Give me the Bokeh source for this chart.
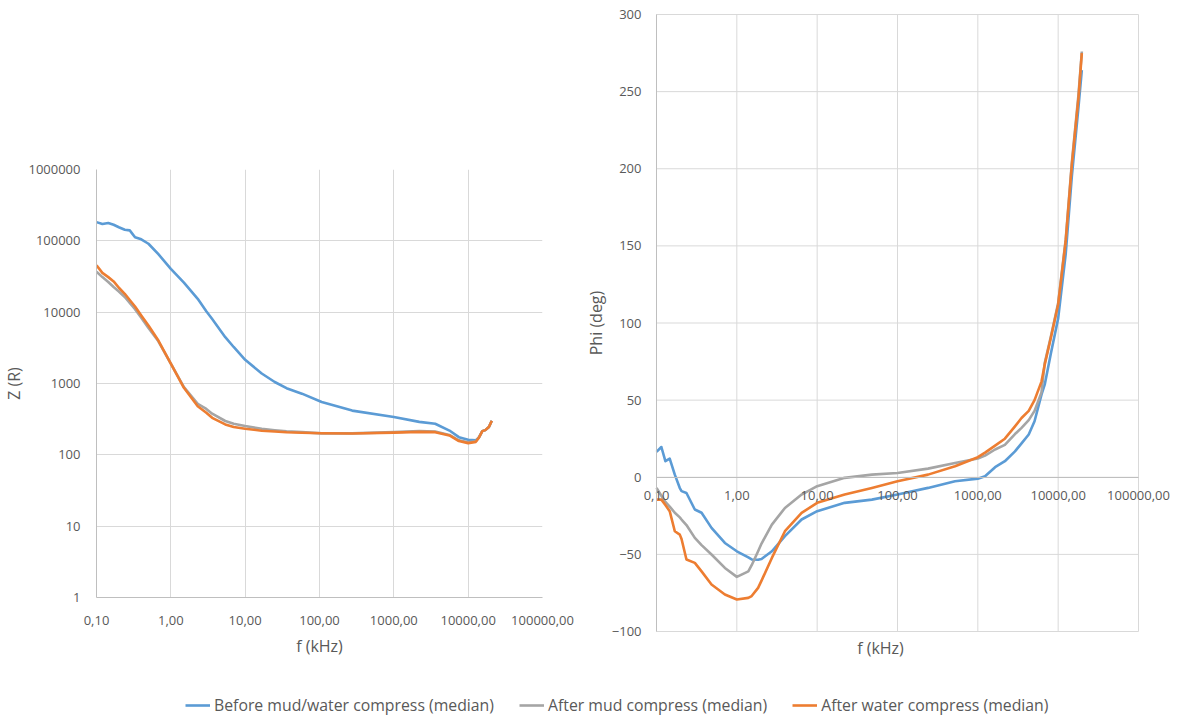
import numpy as np
from bokeh.plotting import figure
from bokeh.models import (FixedTicker, CustomJSTickFormatter, Legend,
                          LegendItem, Range1d, LogAxis)
from bokeh.layouts import column, row
from bokeh.embed import file_html
from bokeh.resources import INLINE

# ---------------- data ----------------
series_names = ["Before mud/water compress (median)",
                "After mud compress (median)",
                "After water compress (median)"]

# impedance magnitude (left chart)
f_z = [0.10, 0.12, 0.144, 0.17, 0.20, 0.24, 0.28, 0.33, 0.40, 0.50, 0.68, 1.0,
       1.5, 2.3, 3.0, 3.6, 5.4, 7.0, 10, 16.7, 25, 36, 58, 107, 275, 1000,
       2200, 3600, 5600, 7500, 10000, 12700, 14000, 15500, 17000, 19000, 20800]
z_before = [183000, 172000, 178000, 168000, 155000, 143000, 140000, 112000,
            105000, 91000, 65000, 40500, 26000, 15400, 10300, 8000, 4460, 3250,
            2150, 1380, 1050, 860, 720, 550, 417, 340, 290, 273, 219, 177, 163,
            160, 175, 215, 222, 245, 300]
z_mud = [37000, 31000, 26500, 22500, 19500, 16300, 13500, 11000, 8350, 6000,
         3900, 1900, 890, 520, 440, 377, 298, 272, 253, 232, 221, 213, 208,
         200, 200, 208, 215, 212, 190, 160, 150, 155, 178, 215, 222, 245, 300]
z_water = [45300, 35500, 31000, 27000, 22000, 18100, 14800, 12000, 9000, 6500,
           4000, 1900, 870, 480, 390, 330, 267, 245, 232, 218, 212, 207, 204,
           201, 199, 205, 210, 208, 187, 156, 146, 152, 175, 215, 222, 245, 300]

# phase (right chart)
f_phi = [0.10, 0.115, 0.129, 0.146, 0.169, 0.195, 0.205, 0.236, 0.30, 0.364,
         0.484, 0.71, 1.0, 1.39, 1.53, 1.84, 2.03, 2.73, 3.97, 6.4, 10, 22, 48,
         100, 240, 520, 1000, 1230, 1640, 2170, 2900, 3500, 4300, 5080, 6200,
         6800, 8100, 10000, 12400, 14800, 17900, 19700]
phi_before = [16.4, 19.6, 10.4, 12.1, 1.7, -7, -9, -10.2, -20.9, -23, -32.8,
              -42.6, -48, -52, -53.3, -53.5, -53, -48, -38.2, -27.4, -22,
              -16.6, -14.5, -11.2, -6.9, -2.6, -0.9, 0.6, 6.5, 10.4, 16.8, 22,
              27.7, 36.3, 53.6, 60, 80, 103, 144.5, 195, 240, 264]
phi_mud = [-6.9, -12, -16, -19, -23, -26, -27.4, -31, -39.3, -44, -50.1, -58.8,
           -64.6, -61, -57, -48, -43, -30.7, -19.9, -11.2, -5.8, -0.4, 1.7,
           2.8, 5.6, 9.3, 12.1, 14, 18, 21, 28, 32, 37, 43, 55, 74, 91, 113,
           154, 204, 248, 276]
phi_water = [-14.5, -14.5, -18, -22, -35, -37.2, -40, -53.3, -55.5, -61,
             -69.5, -76, -79.3, -78.2, -77, -71.7, -67, -52.3, -35, -23.1,
             -16.6, -11.2, -6.9, -2.6, 1.7, 7.1, 13, 16, 20.5, 25, 33, 38.4,
             43, 50, 62, 73, 90.3, 112, 153, 202.7, 246, 275]

x_ticks = [0.1, 1, 10, 100, 1000, 10000, 100000]
z_ticks = [1, 10, 100, 1000, 10000, 100000, 1000000]
phi_ticks = [-100, -50, 0, 50, 100, 150, 200, 250, 300]

# ---------------- style ----------------
BLUE, GRAY, ORANGE = "#5B9BD5", "#A5A5A5", "#ED7D31"
FONT = "Open Sans"
TXT = "#595959"
GRID = "#D9D9D9"
AXLINE = "#BFBFBF"
LW = 2.6

xfmt = CustomJSTickFormatter(code="return tick.toFixed(2).replace('.', ',');")
zfmt = CustomJSTickFormatter(code="return Math.round(tick).toString();")


def style_axis(ax):
    ax.major_tick_line_color = None
    ax.minor_tick_line_color = None
    ax.major_tick_out = 0
    ax.major_tick_in = 0
    ax.minor_tick_out = 0
    ax.minor_tick_in = 0
    ax.axis_line_color = AXLINE
    ax.major_label_text_font = FONT
    ax.major_label_text_font_size = "13px"
    ax.major_label_text_color = TXT
    ax.axis_label_text_font = FONT
    ax.axis_label_text_font_size = "16px"
    ax.axis_label_text_font_style = "normal"
    ax.axis_label_text_color = TXT


# ---------------- left chart ----------------
p1 = figure(frame_width=446, frame_height=428, x_axis_type="log",
            y_axis_type="log",
            x_range=Range1d(0.1, 100000), y_range=Range1d(1, 1000000),
            output_backend="svg", toolbar_location=None,
            min_border_left=95, min_border_right=39, min_border_top=169,
            min_border_bottom=63)
p1.outline_line_color = None
p1.xaxis.ticker = FixedTicker(ticks=x_ticks)
p1.yaxis.ticker = FixedTicker(ticks=z_ticks)
p1.xaxis.formatter = xfmt
p1.yaxis.formatter = zfmt
for ax in p1.xaxis + p1.yaxis:
    style_axis(ax)
p1.xaxis.axis_label = "f (kHz)"
p1.yaxis.axis_label = "Z (R)"
p1.xaxis.major_label_standoff = 18
p1.xaxis.axis_label_standoff = 7
p1.yaxis.major_label_standoff = 16
p1.yaxis.axis_label_standoff = 0
p1.grid.grid_line_color = GRID
p1.grid.grid_line_width = 1

p1.line(f_z, z_before, line_color=BLUE, line_width=LW, line_join="round")
p1.line(f_z, z_mud, line_color=GRAY, line_width=LW, line_join="round")
p1.line(f_z, z_water, line_color=ORANGE, line_width=LW, line_join="round")

# ---------------- right chart ----------------
# The frame is padded beyond the 0.1..100000 x -100..300 plot area so that
# the Excel-style axes (crossing inside the area) can show all their labels.
P2_W, AREA_W, PAD_L = 598, 482, 75
AREA_H, PAD_T, PAD_B = 617, 10, 9
DEC = AREA_W / 6.0
UPP = (phi_ticks[-1] - phi_ticks[0]) / AREA_H
x2_start = x_ticks[0] / 10 ** (PAD_L / DEC)
x2_end = x_ticks[-1] * 10 ** ((P2_W - AREA_W - PAD_L) / DEC)
y2_start = phi_ticks[0] - PAD_B * UPP
y2_end = phi_ticks[-1] + PAD_T * UPP

p2 = figure(frame_width=P2_W, frame_height=AREA_H + PAD_T + PAD_B,
            x_axis_type="log",
            x_range=Range1d(x2_start, x2_end), y_range=Range1d(y2_start, y2_end),
            output_backend="svg", toolbar_location=None,
            min_border_left=0, min_border_right=0, min_border_top=14 - PAD_T,
            min_border_bottom=20)
p2.outline_line_color = None

# grid only across the plot area
p2.grid.visible = False
p2.segment(x0=[x_ticks[0]] * len(phi_ticks), x1=[x_ticks[-1]] * len(phi_ticks),
           y0=phi_ticks, y1=phi_ticks, line_color=GRID, line_width=1)
p2.segment(x0=x_ticks, x1=x_ticks, y0=[phi_ticks[0]] * len(x_ticks),
           y1=[phi_ticks[-1]] * len(x_ticks), line_color=GRID, line_width=1)

xa = p2.xaxis[0]
style_axis(xa)
xa.ticker = FixedTicker(ticks=x_ticks)
xa.formatter = xfmt
xa.fixed_location = 0
xa.bounds = (x_ticks[0], x_ticks[-1])
xa.major_label_standoff = 14

ya = p2.yaxis[0]
style_axis(ya)
ya.ticker = FixedTicker(ticks=phi_ticks)
ya.fixed_location = x_ticks[0]
ya.bounds = (phi_ticks[0], phi_ticks[-1])
ya.axis_label = "Phi (deg)"
ya.major_label_standoff = 15
ya.axis_label_standoff = 2

title_ax = LogAxis(ticker=FixedTicker(ticks=[]), axis_label="f (kHz)",
                   bounds=(x_ticks[0], x_ticks[-1]))
style_axis(title_ax)
title_ax.axis_line_color = None
title_ax.axis_label_standoff = -4
p2.add_layout(title_ax, "below")

p2.line(f_phi, phi_before, line_color=BLUE, line_width=LW, line_join="round")
p2.line(f_phi, phi_mud, line_color=GRAY, line_width=LW, line_join="round")
p2.line(f_phi, phi_water, line_color=ORANGE, line_width=LW, line_join="round")

# ---------------- legend strip ----------------
leg = figure(width=1178, height=55, output_backend="svg", toolbar_location=None,
             x_range=Range1d(0, 1), y_range=Range1d(0, 1), min_border=0,
             x_axis_location=None, y_axis_location=None)
leg.outline_line_color = None
leg.grid.visible = False
nan = np.array([np.nan])
rs = [leg.line(x=nan, y=nan, line_color=c, line_width=LW)
      for c in (BLUE, GRAY, ORANGE)]
legend = Legend(items=[LegendItem(label=n, renderers=[r])
                       for n, r in zip(series_names, rs)],
                location=(185, 0), orientation="horizontal",
                glyph_width=25, glyph_height=16, label_standoff=4, spacing=25,
                padding=0, margin=0, border_line_color=None,
                background_fill_alpha=0, label_text_font=FONT,
                label_text_font_size="15.8px", label_text_color=TXT)
leg.add_layout(legend)

layout = column(row(column(p1), column(p2)), leg)
open("out.html", "w").write(file_html(layout, INLINE))
